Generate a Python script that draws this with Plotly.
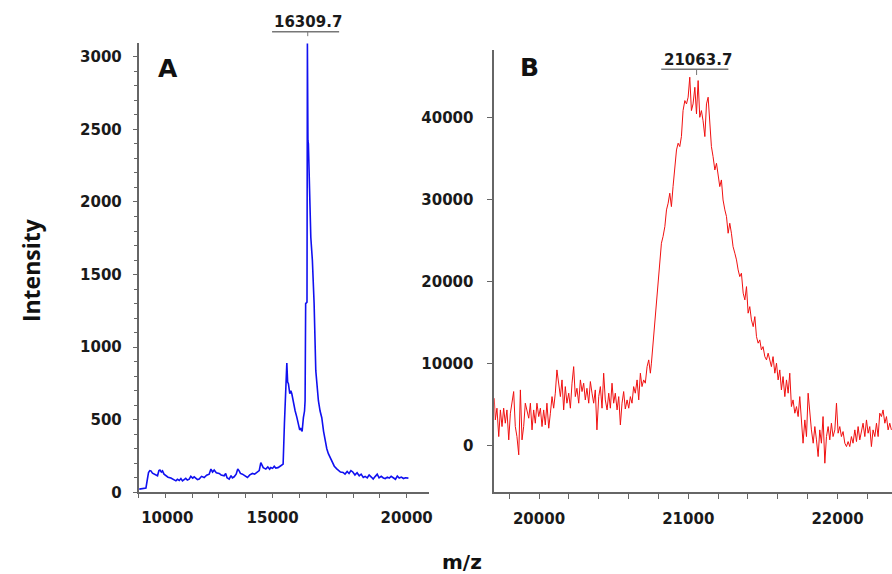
import plotly.graph_objects as go

# panel A spectrum (m/z, intensity)
mz_a = [10026, 10150, 10276, 10330, 10373, 10420, 10462, 10520, 10585, 10650,
        10708, 10760, 10797, 10850, 10894, 10950, 11021, 11100, 11207, 11300,
        11394, 11450, 11520, 11580, 11639, 11700, 11760, 11820, 11889, 11950,
        12020, 12075, 12150, 12200, 12262, 12350, 12448, 12540, 12634, 12700,
        12760, 12821, 12900, 13007, 13080, 13193, 13250, 13300, 13380, 13450,
        13500, 13566, 13640, 13700, 13752, 13800, 13875, 13950, 14061, 14150,
        14248, 14330, 14423, 14500, 14560, 14598, 14650, 14747, 14820, 14890,
        14933, 15000, 15060, 15119, 15200, 15306, 15392, 15440, 15480, 15530,
        15560, 15589, 15640, 15680, 15716, 15780, 15839, 15900, 15962, 16010,
        16051, 16100, 16148, 16190, 16211, 16232, 16282, 16297, 16318, 16334,
        16371, 16424, 16483, 16547, 16610, 16650, 16707, 16770, 16833, 16900,
        16956, 17020, 17079, 17140, 17206, 17300, 17392, 17460, 17530, 17627,
        17700, 17780, 17850, 17920, 17990, 18070, 18150, 18230, 18300, 18380,
        18450, 18530, 18600, 18680, 18750, 18830, 18900, 18970, 19050, 19130,
        19200, 19280, 19350, 19420, 19500, 19580, 19650, 19720, 19800, 19880,
        19950, 20063]
int_a = [22, 25, 29, 90, 137, 150, 148, 132, 125, 118,
         114, 150, 153, 140, 148, 125, 114, 104, 98, 88,
         79, 90, 82, 95, 79, 88, 96, 84, 91, 110,
         98, 107, 96, 88, 91, 110, 102, 118, 125, 160,
         140, 153, 135, 130, 120, 114, 130, 100, 91, 115,
         100, 107, 125, 160, 148, 130, 125, 115, 102, 120,
         130, 125, 137, 150, 205, 194, 170, 160, 175, 160,
         171, 165, 180, 167, 170, 183, 194, 472, 700, 890,
         760, 748, 680, 700, 679, 610, 562, 520, 472, 430,
         438, 420, 514, 560, 631, 1300, 1310, 3091, 2424, 2400,
         2102, 1757, 1597, 1300, 838, 720, 631, 560, 514, 420,
         355, 300, 266, 240, 217, 180, 162, 150, 140, 137,
         126, 144, 130, 150, 140, 120, 135, 114, 125, 102,
         110, 100, 120, 105, 91, 110, 125, 100, 110, 99,
         95, 105, 98, 110, 100, 90, 112, 98, 105, 95,
         100, 98]

# panel B spectrum (m/z, intensity)
mz_b = [19700, 19707, 19718, 19730, 19741, 19752, 19763, 19774, 19785, 19797,
        19808, 19819, 19830, 19841, 19852, 19864, 19875, 19886, 19897, 19908,
        19919, 19931, 19942, 19953, 19964, 19975, 19986, 19998, 20009, 20020,
        20031, 20042, 20053, 20065, 20076, 20087, 20098, 20109, 20120, 20132,
        20143, 20154, 20165, 20176, 20187, 20199, 20210, 20221, 20232, 20243,
        20254, 20266, 20277, 20288, 20299, 20310, 20321, 20333, 20344, 20355,
        20366, 20377, 20388, 20400, 20411, 20422, 20433, 20444, 20456, 20467,
        20478, 20489, 20500, 20511, 20523, 20534, 20545, 20556, 20567, 20578,
        20590, 20601, 20612, 20623, 20634, 20645, 20657, 20668, 20679, 20690,
        20701, 20712, 20724, 20735, 20746,
        20753, 20764, 20776, 20787, 20798, 20809, 20820, 20831, 20843, 20854,
        20865, 20876, 20887, 20898, 20910, 20921, 20932, 20943, 20954, 20965,
        20977, 20988, 20999, 21010, 21021, 21032, 21044, 21055, 21066, 21077,
        21088, 21099, 21111, 21122, 21133, 21144, 21155, 21166, 21178, 21189,
        21200, 21211, 21222, 21233, 21245, 21256, 21267, 21278, 21289, 21300,
        21312, 21323, 21334, 21345, 21356, 21368, 21379, 21390, 21401, 21412,
        21423, 21435, 21446, 21457, 21468, 21479, 21490, 21501, 21513, 21524,
        21535,
        21546, 21557, 21568, 21580, 21591, 21602, 21613, 21624, 21635, 21647,
        21658, 21669, 21680, 21691, 21702, 21714, 21725, 21736, 21747, 21758,
        21769, 21781, 21792, 21803, 21814, 21825, 21837, 21848, 21859, 21870,
        21881, 21892, 21903, 21915, 21926, 21937, 21948, 21959, 21970, 21982,
        21993, 22004, 22015, 22026, 22037, 22049, 22060, 22071, 22082, 22093,
        22104, 22116, 22127, 22138, 22149, 22160, 22171, 22183, 22194, 22205,
        22216, 22227, 22238, 22250, 22261, 22272, 22283, 22294, 22305, 22317,
        22328, 22339, 22350, 22361]
int_b = [5780, 3134, 4560, 1100, 4350, 2320, 4560, 2730, 4350, 695,
         3950, 5170, 6590, 2320, 1100, -1130, 6790, 695, 2320, 5170,
         4350, 3340, 5170, 1915, 4350, 2730, 5170, 3540, 4560, 2320,
         4350, 2520, 5170, 2120, 3950, 5975, 4560, 6390, 9230, 7610,
         5975, 8010, 4350, 7195, 5170, 6390, 4560, 7610, 9630, 5975,
         6990, 5170, 8010, 6590, 7610, 5570, 6990, 5170, 7810, 6390,
         5170, 6790, 1915, 5975, 7195, 4560, 8830, 5570, 4350, 6390,
         4560, 7610, 5170, 6390, 4350, 5975, 2520, 5170, 6590, 4460,
         5570, 4560, 5975, 5170, 7195, 6390, 8010, 5570, 8830, 7195,
         8010, 7610, 9630, 10450, 8830,
         10050, 12490, 15330, 17770, 20210, 22650, 24680, 25500, 26710, 28750,
         29560, 30780, 29150, 31590, 33620, 36060, 36880, 36470, 37690, 40860,
         42080, 41670, 42490, 44930, 40860, 41670, 43700, 40450, 44520, 40040,
         40860, 39630, 37690, 41670, 42490, 38820, 36470, 35250, 33620, 34430,
         32810, 31590, 32400, 29960, 28750, 27930, 25900, 27120, 25900, 24270,
         23460, 22650, 21430, 20610, 21020, 18590, 17770, 19390, 16150, 16950,
         15330, 14510, 15730, 13290, 12490, 12890, 11670, 12070, 10850, 10450,
         11270,
         10450, 9630, 10850, 8830, 10050, 8010, 9230, 6790, 8415, 5975,
         8010, 6390, 8830, 4760, 5570, 3950, 4760, 3540, 5975, 2730,
         290, 3130, 1100, 6390, 3950, 1915, 290, 2320, 695, -1340,
         1915, 290, 3540, -2150, 1100, 2320, 695, 2730, 1100, 1915,
         5170, 1510, 2320, 1100, 1710, 290, -120, 490, -120, 1100,
         290, 1915, 490, 2320, 695, 1915, 2730, 1100, 3130, 1510,
         2320, -120, 1915, 1100, 2730, 1100, 3950, 3540, 4350, 2730,
         3540, 1915, 2730, 1915]

peak_a = 16309.7
peak_b = 21063.7

tick_font = dict(family="DejaVu Sans", size=15, color="#1a1a1a", weight="bold")
axis_col = "#666666"

fig = go.Figure()
fig.add_trace(go.Scatter(x=mz_a, y=int_a, mode="lines", xaxis="x", yaxis="y",
                         line=dict(color="#1010f0", width=1.6), showlegend=False))
fig.add_trace(go.Scatter(x=mz_b, y=int_b, mode="lines", xaxis="x2", yaxis="y2",
                         line=dict(color="#f01010", width=1), showlegend=False))

common = dict(showline=True, linecolor=axis_col, linewidth=1.5, showgrid=False,
              zeroline=False, tickfont=tick_font, automargin=False,
              ticks="outside", tickcolor=axis_col)

fig.update_layout(
    width=892, height=574,
    margin=dict(l=0, r=0, t=0, b=0, autoexpand=False),
    plot_bgcolor="white", paper_bgcolor="white",
    xaxis=dict(domain=[0.1553, 0.4809], range=[10000, 20830], anchor="y",
               tickmode="array", tickvals=[10000, 15000, 20000],
               ticktext=["\u00a0" * 11 + "10000", "15000", "20000"],
               ticklen=4,
               minor=dict(tickmode="linear", tick0=0, dtick=1000, ticks="outside",
                          ticklen=4, tickcolor=axis_col),
               ticklabelstandoff=7, **common),
    yaxis=dict(domain=[0.1423, 0.9251], range=[0, 3095], anchor="x",
               tickmode="linear", tick0=0, dtick=500, tickformat="d", ticklen=4,
               minor=dict(dtick=100, ticks="outside", ticklen=3, tickcolor=axis_col),
               ticklabelstandoff=8, **common),
    xaxis2=dict(domain=[0.5541, 1.0], range=[19700, 22365], anchor="y2",
                tickmode="linear", tick0=0, dtick=1000, tickformat="d", ticklen=5,
                minor=dict(dtick=200, ticks="outside", ticklen=5, tickcolor=axis_col),
                ticklabelstandoff=7, **common),
    yaxis2=dict(domain=[0.1423, 0.9129], range=[-5700, 48250], anchor="x2",
                tickmode="linear", tick0=0, dtick=10000, tickformat="d", ticklen=6,
                ticklabelstandoff=10, **common),
)

# peak labels with bracket
fig.add_annotation(x=peak_a, xref="x", y=0.962, yref="paper", text=str(peak_a),
                   showarrow=False, font=tick_font, xanchor="center", yanchor="middle")
fig.add_shape(type="line", xref="x", yref="paper", x0=peak_a - 1330, x1=peak_a + 1170,
              y0=0.9448, y1=0.9448, line=dict(color="#777777", width=1.5))
fig.add_shape(type="line", xref="x", yref="paper", x0=peak_a, x1=peak_a,
              y0=0.9448, y1=0.937, line=dict(color="#777777", width=1))
fig.add_annotation(x=peak_b, xref="x2", y=0.895, yref="paper", text=str(peak_b),
                   showarrow=False, font=tick_font, xanchor="center", yanchor="middle")
fig.add_shape(type="line", xref="x2", yref="paper", x0=peak_b - 245, x1=peak_b + 205,
              y0=0.8793, y1=0.8793, line=dict(color="#777777", width=1.5))
fig.add_shape(type="line", xref="x2", yref="paper", x0=peak_b - 8, x1=peak_b - 8,
              y0=0.8793, y1=0.8693, line=dict(color="#777777", width=1))

# panel letters
letter_font = dict(family="DejaVu Sans", size=25, color="#111111", weight="bold")
fig.add_annotation(x=0.188, y=0.881, xref="paper", yref="paper", text="A",
                   showarrow=False, font=letter_font, xanchor="center", yanchor="middle")
fig.add_annotation(x=0.594, y=0.883, xref="paper", yref="paper", text="B",
                   showarrow=False, font=letter_font, xanchor="center", yanchor="middle")

# shared axis titles
fig.add_annotation(x=0.034, y=0.53, xref="paper", yref="paper", text="Intensity",
                   textangle=-90, showarrow=False, xanchor="center", yanchor="middle",
                   font=dict(family="Open Sans", size=23, color="#111111", weight="bold"))
fig.add_annotation(x=0.518, y=0.021, xref="paper", yref="paper", text="m/z",
                   showarrow=False, xanchor="center", yanchor="middle",
                   font=dict(family="DejaVu Sans", size=20, color="#111111", weight="bold"))

# drop the default page margin so the figure sits at the window origin
fig.write_html("out.html", config={"displayModeBar": False},
               post_script="document.body.style.margin='0';")
